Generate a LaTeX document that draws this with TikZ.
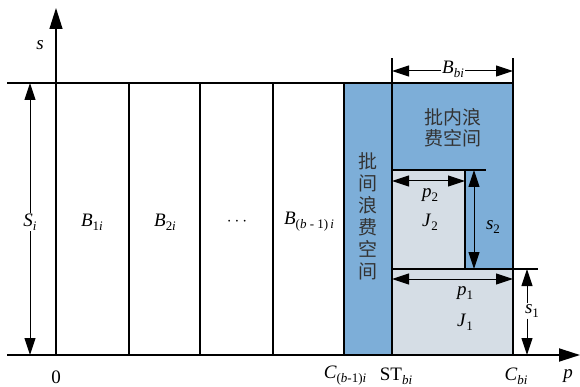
\documentclass[tikz,border=0pt]{standalone}
\usepackage{fontspec}
\setmainfont{Liberation Serif}
\newfontfamily\cjk{Noto Sans CJK SC}
\usetikzlibrary{arrows.meta}
\definecolor{wasteblue}{RGB}{125,174,216}
\definecolor{jobgray}{RGB}{213,221,229}
\newcommand\sbs[1]{\raisebox{-0.45ex}{\fontsize{13}{13}\selectfont #1}}
\tikzset{
  mainline/.style={line width=1.8pt},
  dimarr/.style={line width=1pt,{Triangle[length=17pt,width=11pt]}-{Triangle[length=17pt,width=11pt]}},
  onearr/.style={line width=1pt,-{Triangle[length=17pt,width=11pt]}},
  axisarr/.style={line width=1.3pt,-{Triangle[length=21pt,width=13pt]}},
  lab/.style={font=\fontsize{19}{19}\selectfont, inner sep=1pt},
  cjklab/.style={font=\cjk\fontsize{19}{21}\selectfont, align=center, inner sep=0pt, text=black!80},
}
\begin{document}
\begin{tikzpicture}[x=1pt,y=-1pt]
\useasboundingbox (0,0) rectangle (580,387);
% fills
\fill[wasteblue] (344,83) rectangle (513,355);
\fill[jobgray] (392,269) rectangle (513,355);
\fill[jobgray] (392,170) rectangle (465,269);
% coordinates
\coordinate (tl) at (7,83);
\coordinate (tr) at (513,83);
\coordinate (bl) at (7,355);
\coordinate (br) at (580,355);
\coordinate (o) at (56,355);
\coordinate (ot) at (56,83);
\coordinate (stop) at (56,8);
% main lines
\draw[mainline] (tl) -- (tr);
\draw[axisarr, line width=1.8pt] (bl) -- (br);
\draw[axisarr] (ot) -- (stop);
\foreach \x in {56,129,200,273,344,392,513}{
  \draw[mainline] (\x,83) -- (\x,355);
}
\draw[mainline] (392,269) -- (538,269);
\draw[mainline] (392,170) -- (486,170);
\draw[mainline] (465,170) -- (465,269);
% extension lines for B_bi
\draw[line width=1.3pt] (392,83) -- (392,58);
\draw[line width=1.3pt] (513,83) -- (513,58);
% labels
\node[lab] (s) at (40,45) {\textit{s}};
\node[lab] (Si) at (30,222) {\textit{S}\sbs{\textit{i}}};
\coordinate (sit) at (30,83);
\coordinate (sib) at (30,355);
\draw[onearr] (Si.north) -- (sit);
\draw[onearr] (Si.south) -- (sib);
\node[lab] (b1) at (92,222) {\textit{B}\sbs{1\textit{i}}};
\node[lab] (b2) at (165,222) {\textit{B}\sbs{2\textit{i}}};
\node[lab] (dots) at (237,222) {$\cdots$};
\node[lab] (bb1) at (309,222) {\textit{B}\sbs{(\textit{b} - 1)\,\textit{i}}};
% waste texts
\node[cjklab] (inter) at (368,216) {批\\[1pt]间\\[1pt]浪\\[1pt]费\\[1pt]空\\[1pt]间};
\node[cjklab] (intra) at (453,128) {批内浪\\费空间};
% B_bi dimension
\coordinate (bbl) at (392,71);
\coordinate (bbr) at (513,71);
\draw[dimarr] (bbl) -- (bbr);
\node[lab, fill=white] (bbi) at (453,69) {\textit{B}\sbs{\textit{bi}}};
% J2
\coordinate (p2l) at (392,181);
\coordinate (p2r) at (465,181);
\draw[dimarr] (p2l) -- (p2r);
\node[lab] (p2) at (430,195) {\textit{p}\sbs{2}};
\node[lab] (J2) at (430,222) {\textit{J}\sbs{2}};
\coordinate (s2t) at (474,170);
\coordinate (s2b) at (474,269);
\draw[dimarr] (s2t) -- (s2b);
\node[lab] (s2) at (493,227) {\textit{s}\sbs{2}};
% J1
\coordinate (p1l) at (392,279);
\coordinate (p1r) at (513,279);
\draw[dimarr] (p1l) -- (p1r);
\node[lab] (p1) at (465,293) {\textit{p}\sbs{1}};
\node[lab] (J1) at (465,322) {\textit{J}\sbs{1}};
\node[lab] (s1) at (532,311) {\textit{s}\sbs{1}};
\coordinate (s1t) at (527,269);
\coordinate (s1b) at (527,355);
\draw[onearr] ([xshift=-5pt]s1.north) -- (s1t);
\draw[onearr] ([xshift=-5pt]s1.south) -- (s1b);
% bottom labels
\node[lab] (zero) at (56,377) {0};
\node[lab] (cb1) at (345,376) {\textit{C}\sbs{(\textit{b}-1)\textit{i}}};
\node[lab] (stbi) at (396,376) {ST\sbs{\textit{bi}}};
\node[lab] (cbi) at (516,376) {\textit{C}\sbs{\textit{bi}}};
\node[lab] (p) at (568,376) {\textit{p}};
\end{tikzpicture}
\end{document}
